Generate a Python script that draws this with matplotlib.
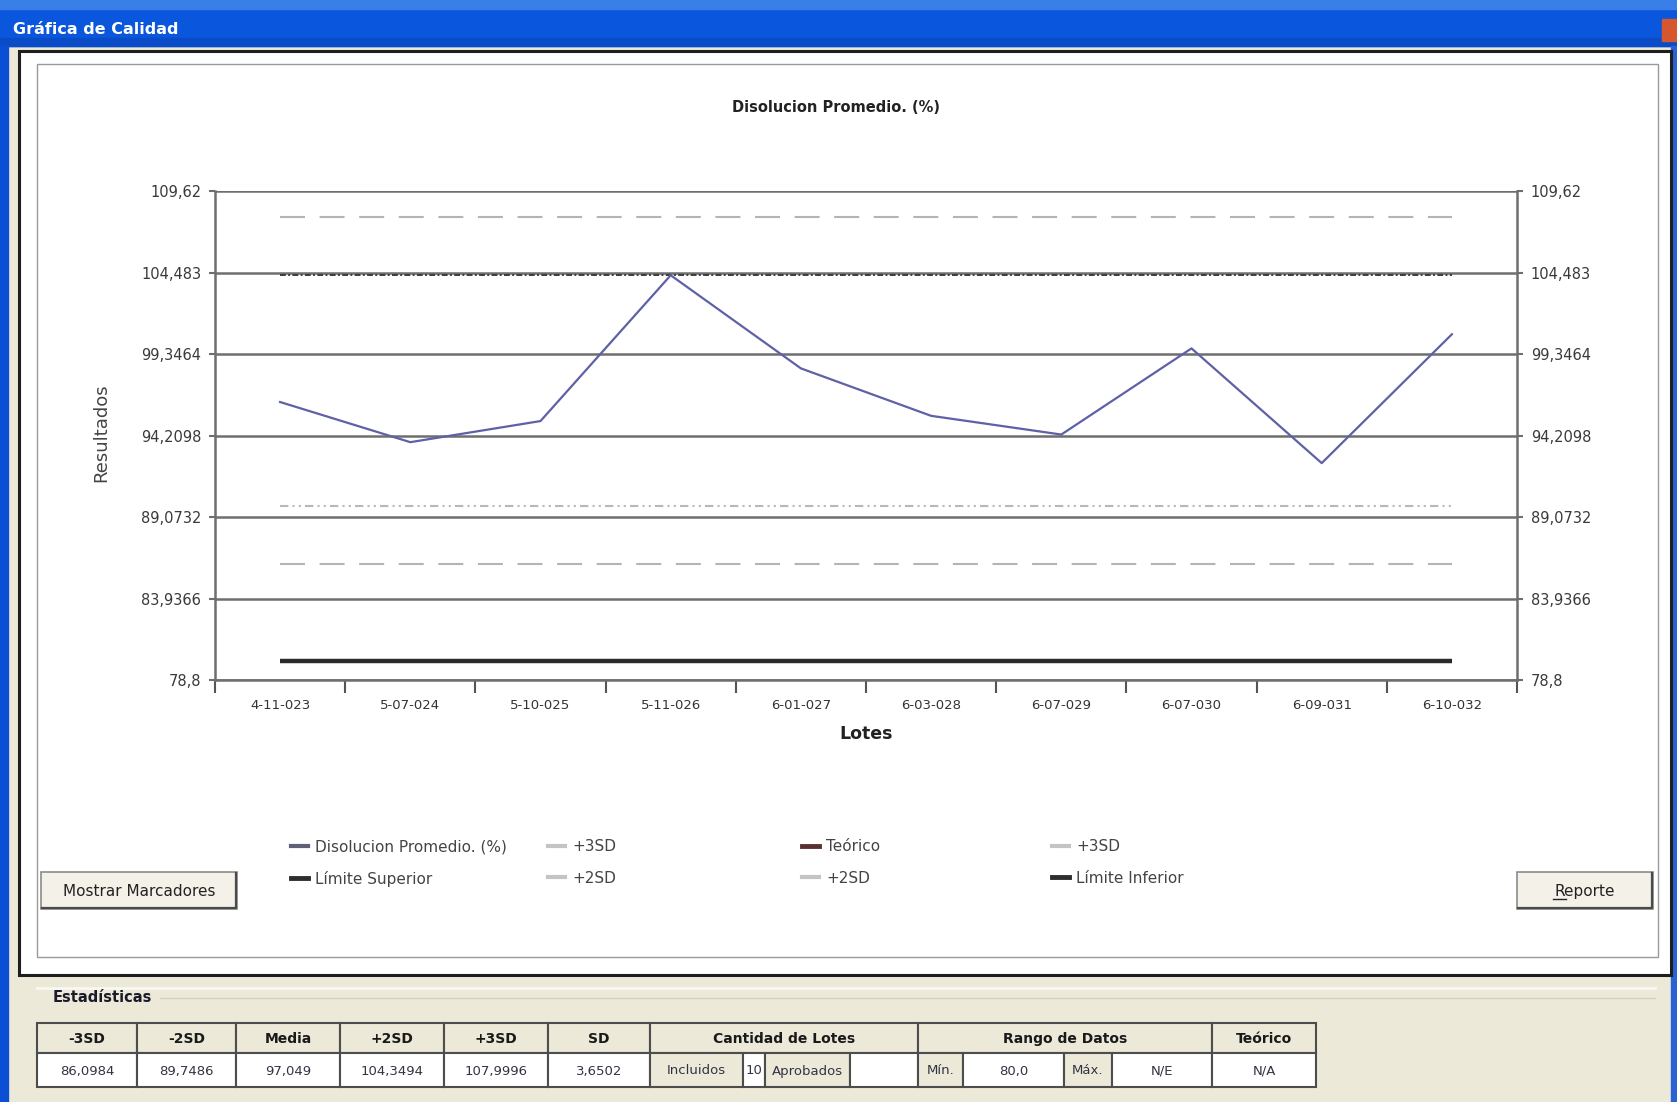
"""plot.py: Grafica de Calidad - Disolucion Promedio"""
import matplotlib
matplotlib.use("Agg")
import matplotlib.pyplot as plt
from matplotlib.patches import Rectangle
from matplotlib.lines import Line2D

W, H = 1677, 1102
DPI = 100

# --- data -------------------------------------------------------------
lotes = ['4-11-023', '5-07-024', '5-10-025', '5-11-026', '6-01-027',
         '6-03-028', '6-07-029', '6-07-030', '6-09-031', '6-10-032']
disolucion = [96.32, 93.79, 95.12, 104.31, 98.44, 95.45, 94.27, 99.70, 92.47, 100.59]

mas_3sd = 107.9996
mas_2sd = 104.3494
menos_2sd = 89.7486
menos_3sd = 86.0984
limite_inferior = 80.0

y_ticks = [78.8, 83.9366, 89.0732, 94.2098, 99.3464, 104.483, 109.62]
y_tick_labels = ['78,8', '83,9366', '89,0732', '94,2098', '99,3464', '104,483', '109,62']

legend_cols = [
    [('Disolucion Promedio. (%)', '#606078', 3.0), ('Límite Superior', '#2e2e2e', 3.5)],
    [('+3SD', '#c4c4c4', 3.0), ('+2SD', '#c4c4c4', 3.0)],
    [('Teórico', '#5a3030', 3.5), ('+2SD', '#c4c4c4', 3.0)],
    [('+3SD', '#c4c4c4', 3.0), ('Límite Inferior', '#2e2e2e', 3.5)],
]

stat_headers = ['-3SD', '-2SD', 'Media', '+2SD', '+3SD', 'SD',
                'Cantidad de Lotes', 'Rango de Datos', 'Teórico']
stat_values = ['86,0984', '89,7486', '97,049', '104,3494', '107,9996', '3,6502']
lotes_cells = ['Incluidos', '10', 'Aprobados', '']
rango_cells = ['Mín.', '80,0', 'Máx.', 'N/E']
teorico_value = 'N/A'

# --- layout (pixels) ---------------------------------------------------
AX_L, AX_R, AX_T, AX_B = 215, 1517, 191, 680
HEAD_X = [37, 137, 236, 340, 444, 548, 650, 918, 1212, 1316]
LOTES_X = [650, 743, 765, 850, 918]
RANGO_X = [918, 963, 1064, 1112, 1212]
ROW_T, ROW_M, ROW_B = 1023, 1053, 1087

BEIGE = '#ece9d8'
GRID = '#6e6e6e'


def fx(px):
    return px / W


def fy(py):
    return 1 - py / H


fig = plt.figure(figsize=(W / DPI, H / DPI), dpi=DPI)

# window chrome drawn in pixel coordinates
bg = fig.add_axes([0, 0, 1, 1], zorder=0)
bg.set_xlim(0, W)
bg.set_ylim(H, 0)
bg.axis('off')

bg.add_patch(Rectangle((0, 0), W, H, color=BEIGE))
bg.add_patch(Rectangle((0, 0), W, 46, color='#0a56dc'))
bg.add_patch(Rectangle((0, 0), W, 9, color='#3a7ee8'))
bg.add_patch(Rectangle((0, 38), W, 8, color='#0a4cc8'))
bg.add_patch(Rectangle((0, 46), 8, H - 46, color='#0b50d4'))
bg.add_patch(Rectangle((W - 6, 46), 6, H - 46, color='#2a62d6'))
bg.add_patch(Rectangle((1662, 19), 15, 22, color='#d6572e'))
bg.text(13, 30, 'Gráfica de Calidad', color='white', fontsize=11.5,
        fontweight='bold', va='center', ha='left')

# white panel with dark frame and inner grey frame
bg.add_patch(Rectangle((19, 51), 1652, 924, facecolor='white',
                       edgecolor='#1e1e1e', lw=2.2))
bg.add_patch(Rectangle((37, 64), 1621, 893, facecolor='none',
                       edgecolor='#9a9a9a', lw=1.0))


def button(x0, y0, x1, y1, label):
    bg.add_patch(Rectangle((x0, y0), x1 - x0, y1 - y0, facecolor='#f3f1e8',
                           edgecolor='#8c8c8c', lw=1.2))
    bg.plot([x0 + 1, x1 - 1, x1 - 1], [y1 - 1, y1 - 1, y0 + 1],
            color='#4a4a4a', lw=1.6)
    bg.text((x0 + x1) / 2, (y0 + y1) / 2 + 1, label, fontsize=11,
            ha='center', va='center', color='#222222')


button(41, 872, 237, 909, 'Mostrar Marcadores')
button(1517, 872, 1653, 909, 'Reporte')
bg.plot([1553, 1566], [899, 899], color='#222222', lw=1.0)

# statistics group
bg.plot([37, 1655], [988, 988], color='#f8f8f4', lw=2)
bg.plot([160, 1655], [998, 998], color='#d3d0c0', lw=1)
bg.text(53, 998, 'Estadísticas', fontsize=10.5, fontweight='bold',
        ha='left', va='center', color='#1a1a2a')


def cell(x0, x1, y0, y1, text, face, bold=False):
    bg.add_patch(Rectangle((x0, y0), x1 - x0, y1 - y0, facecolor=face,
                           edgecolor='#4d4d4d', lw=1.5))
    bg.text((x0 + x1) / 2, (y0 + y1) / 2 + 1, text, ha='center', va='center',
            fontsize=10 if bold else 9.5,
            fontweight='bold' if bold else 'normal',
            color='#1a1a1a' if bold else '#333344')


for i, head in enumerate(stat_headers):
    cell(HEAD_X[i], HEAD_X[i + 1], ROW_T, ROW_M, head, BEIGE, bold=True)
for i, val in enumerate(stat_values):
    cell(HEAD_X[i], HEAD_X[i + 1], ROW_M, ROW_B, val, 'white')
for i, val in enumerate(lotes_cells):
    face = BEIGE if i in (0, 2) else 'white'
    cell(LOTES_X[i], LOTES_X[i + 1], ROW_M, ROW_B, val, face)
for i, val in enumerate(rango_cells):
    face = BEIGE if i in (0, 2) else 'white'
    cell(RANGO_X[i], RANGO_X[i + 1], ROW_M, ROW_B, val, face)
cell(HEAD_X[8], HEAD_X[9], ROW_M, ROW_B, teorico_value, 'white')

# --- chart -------------------------------------------------------------
ax = fig.add_axes([fx(AX_L), fy(AX_B), (AX_R - AX_L) / W, (AX_B - AX_T) / H],
                  zorder=2)
ax.set_facecolor('none')
x = list(range(len(lotes)))
n = len(lotes)

ax.plot(x, [mas_3sd] * n, color='#b4b4b4', lw=1.5, dashes=(12, 7))
ax.plot(x, [mas_2sd] * n, color='#3c3c3c', lw=1.4, dashes=(3, 1.2, 1, 1.2))
ax.plot(x, [menos_2sd] * n, color='#b8b8b8', lw=1.5, dashes=(4, 2, 1, 2, 1, 2))
ax.plot(x, [menos_3sd] * n, color='#b4b4b4', lw=1.5, dashes=(12, 7))
ax.plot(x, [limite_inferior] * n, color='#2a2a2a', lw=3.2, solid_capstyle='butt')
ax.plot(x, disolucion, color='#5f61a6', lw=1.6)

ax.set_xlim(-0.5, n - 0.5)
ax.set_ylim(y_ticks[0], y_ticks[-1])
ax.set_yticks(y_ticks)
ax.set_yticklabels(y_tick_labels)
ax.yaxis.grid(True, color=GRID, lw=1.8)
ax.set_axisbelow(True)
ax.tick_params(axis='y', left=True, right=True, labelleft=True, labelright=True,
               length=4, width=1.5, color=GRID, pad=6, labelsize=10.5,
               labelcolor='#3a3a3a')

ax.set_xticks([i - 0.5 for i in range(n + 1)])
ax.set_xticklabels([])
ax.set_xticks(x, minor=True)
ax.set_xticklabels(lotes, minor=True)
ax.tick_params(axis='x', which='major', length=9, width=1.5, color='#555555')
ax.tick_params(axis='x', which='minor', length=0, pad=14, labelsize=9.5,
               labelcolor='#333333')

for side in ('left', 'right', 'bottom'):
    ax.spines[side].set_color(GRID)
    ax.spines[side].set_linewidth(1.8)
ax.spines['top'].set_visible(False)

ax.set_xlabel('Lotes', fontsize=12.5, fontweight='bold', color='#222222')
ax.xaxis.set_label_coords(0.5, (AX_B - 725) / (AX_B - AX_T))
ax.set_ylabel('Resultados', fontsize=13, color='#444444')
ax.yaxis.set_label_coords((110 - AX_L) / (AX_R - AX_L), 0.505)

fig.text(fx(836), fy(107), 'Disolucion Promedio. (%)', fontsize=10.5,
         fontweight='bold', ha='center', va='center', color='#222222')

# legend: four columns of two entries
col_x = [291, 548, 802, 1052]
for cx, entries in zip(col_x, legend_cols):
    handles = [Line2D([], [], color=c, lw=lw) for _, c, lw in entries]
    labels = [lab for lab, _, _ in entries]
    fig.legend(handles, labels, loc='upper left', bbox_to_anchor=(fx(cx), fy(839)),
               frameon=False, fontsize=11, handlelength=1.1, handletextpad=0.5,
               labelspacing=1.1, borderpad=0, borderaxespad=0,
               labelcolor='#444444')

fig.savefig('out.png', dpi=DPI)
